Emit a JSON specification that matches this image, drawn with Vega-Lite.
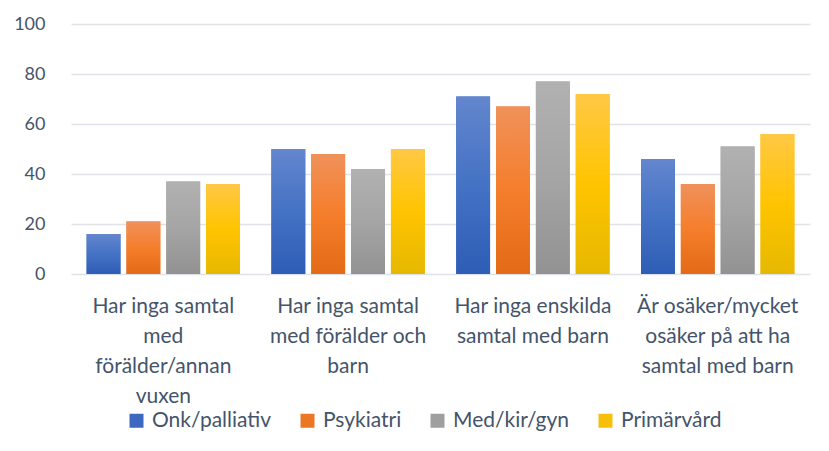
{
  "$schema": "https://vega.github.io/schema/vega-lite/v6.json",
  "autosize": "none",
  "width": 739,
  "height": 250,
  "padding": {"left": 71, "top": 24, "right": 19, "bottom": 177},
  "background": "white",
  "config": {
    "view": {"stroke": null},
    "font": "Lato",
    "axis": {"labelFont": "Lato", "labelColor": "#44546A"}
  },
  "data": {
    "values": [
      {"cat": "Har inga samtal|med|förälder/annan|vuxen", "series": "Onk/palliativ", "value": 16},
      {"cat": "Har inga samtal|med|förälder/annan|vuxen", "series": "Psykiatri", "value": 21},
      {"cat": "Har inga samtal|med|förälder/annan|vuxen", "series": "Med/kir/gyn", "value": 37},
      {"cat": "Har inga samtal|med|förälder/annan|vuxen", "series": "Primärvård", "value": 36},
      {"cat": "Har inga samtal|med förälder och|barn", "series": "Onk/palliativ", "value": 50},
      {"cat": "Har inga samtal|med förälder och|barn", "series": "Psykiatri", "value": 48},
      {"cat": "Har inga samtal|med förälder och|barn", "series": "Med/kir/gyn", "value": 42},
      {"cat": "Har inga samtal|med förälder och|barn", "series": "Primärvård", "value": 50},
      {"cat": "Har inga enskilda|samtal med barn", "series": "Onk/palliativ", "value": 71},
      {"cat": "Har inga enskilda|samtal med barn", "series": "Psykiatri", "value": 67},
      {"cat": "Har inga enskilda|samtal med barn", "series": "Med/kir/gyn", "value": 77},
      {"cat": "Har inga enskilda|samtal med barn", "series": "Primärvård", "value": 72},
      {"cat": "Är osäker/mycket|osäker på att ha|samtal med barn", "series": "Onk/palliativ", "value": 46},
      {"cat": "Är osäker/mycket|osäker på att ha|samtal med barn", "series": "Psykiatri", "value": 36},
      {"cat": "Är osäker/mycket|osäker på att ha|samtal med barn", "series": "Med/kir/gyn", "value": 51},
      {"cat": "Är osäker/mycket|osäker på att ha|samtal med barn", "series": "Primärvård", "value": 56}
    ]
  },
  "encoding": {
    "x": {
      "field": "cat", "type": "nominal", "sort": null,
      "scale": {"paddingInner": 0.157, "paddingOuter": 0.078},
      "axis": {
        "title": null, "labelAngle": 0, "ticks": false, "domain": false,
        "labelExpr": "split(datum.label, '|')", "labelFontSize": 21,
        "labelLineHeight": 30, "labelPadding": 21, "labelBaseline": "top",
        "labelLimit": 250
      }
    },
    "xOffset": {
      "field": "series", "type": "nominal",
      "sort": ["Onk/palliativ", "Psykiatri", "Med/kir/gyn", "Primärvård"],
      "scale": {"domain": ["Onk/palliativ", "Psykiatri", "Med/kir/gyn", "Primärvård"], "paddingInner": 0.15, "paddingOuter": 0.03}
    },
    "y": {
      "field": "value", "type": "quantitative",
      "scale": {"domain": [0, 100], "nice": false},
      "axis": {
        "title": null, "values": [0, 20, 40, 60, 80, 100], "ticks": false, "domain": false,
        "gridColor": "#dfe3e8", "gridWidth": 1.5, "labelPadding": 26, "labelFontSize": 18
      }
    }
  },
  "layer": [
    {
      "mark": {"type": "bar"},
      "encoding": {
        "color": {
          "field": "series", "type": "nominal",
          "scale": {
            "domain": ["Onk/palliativ", "Psykiatri", "Med/kir/gyn", "Primärvård"],
            "range": ["#3c68c0", "#ec7624", "#9f9f9f", "#f7bf0a"]
          },
          "legend": {
            "title": null, "orient": "none", "direction": "horizontal",
            "legendX": 55, "legendY": 386, "padding": 0,
            "symbolType": "square", "symbolSize": 196, "symbolStrokeWidth": 0,
            "labelFont": "Lato", "labelFontSize": 21, "labelColor": "#44546A",
            "labelOffset": 5, "columnPadding": 25
          }
        }
      }
    },
    {
      "mark": {"type": "bar"},
      "encoding": {
        "color": {
          "condition": [
            {"test": "datum.series === 'Onk/palliativ'", "value": {"gradient": "linear", "x1": 0, "y1": 0, "x2": 0, "y2": 1, "stops": [{"offset": 0, "color": "#6386ce"}, {"offset": 0.5, "color": "#4472c4"}, {"offset": 1, "color": "#2e5db6"}]}},
            {"test": "datum.series === 'Psykiatri'", "value": {"gradient": "linear", "x1": 0, "y1": 0, "x2": 0, "y2": 1, "stops": [{"offset": 0, "color": "#f0915a"}, {"offset": 0.5, "color": "#f57e2c"}, {"offset": 1, "color": "#e36b17"}]}},
            {"test": "datum.series === 'Med/kir/gyn'", "value": {"gradient": "linear", "x1": 0, "y1": 0, "x2": 0, "y2": 1, "stops": [{"offset": 0, "color": "#b1b1b1"}, {"offset": 0.5, "color": "#a5a5a5"}, {"offset": 1, "color": "#929292"}]}}
          ],
          "value": {"gradient": "linear", "x1": 0, "y1": 0, "x2": 0, "y2": 1, "stops": [{"offset": 0, "color": "#ffc845"}, {"offset": 0.5, "color": "#ffc400"}, {"offset": 1, "color": "#e6b800"}]}
        }
      }
    }
  ]
}
